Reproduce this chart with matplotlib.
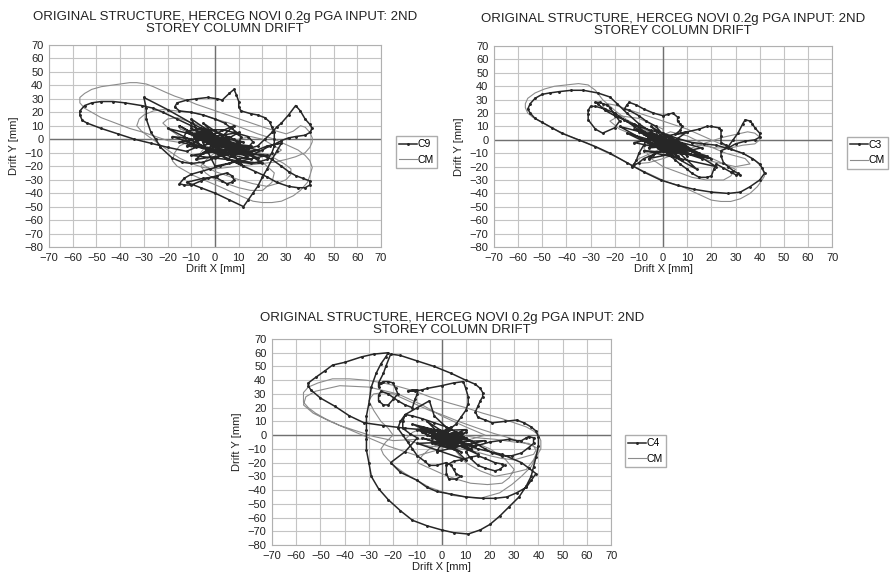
import numpy as np
import matplotlib
matplotlib.use("Agg")
import matplotlib.pyplot as plt

plt.rcParams['font.family'] = ['Liberation Sans', 'DejaVu Sans']

TITLE = "ORIGINAL STRUCTURE, HERCEG NOVI 0.2g PGA INPUT: 2ND\nSTOREY COLUMN DRIFT"
x_ticks = list(range(-70, 71, 10))
y_ticks = list(range(-80, 71, 10))

# ---- panel 1 : C9 vs CM  (x, y) drift in mm ----
c9_pts = [
    (0, 0), (4, -4), (-2, 2), (6, -6), (-4, 3), (2, -2), (9, -7), (-6, 5), (1, -3), (11, -5), (-3, 1), (7, -9), (0, -2), (-8, -6),
    (-12, -9), (-20, -6), (-27, -3), (-34, 0), (-41, 4), (-48, 8), (-54, 12), (-56, 14), (-57, 18), (-57, 21), (-55, 25),
    (-52, 27), (-48, 28), (-43, 28), (-38, 27), (-31, 25), (-26, 23), (-22, 20), (-16, 15), (-10, 10), (-5, 6), (-2, 4), (3, 0),
    (-10, 12), (-20, 22), (-30, 31), (-29, 23), (-29, 15), (-27, 5), (-25, 0), (-23, -6), (-18, -14), (-14, -17), (-10, -18),
    (-5, -17), (0, -14), (5, -11), (10, -10), (15, -11), (20, -12),
    (24, -15), (28, -20), (31, -24), (34, -27), (37, -29), (40, -31), (40, -34), (38, -36), (35, -36), (31, -35), (26, -32),
    (22, -28), (17, -24), (12, -20), (7, -16), (2, -12),
    (-3, -8), (-8, -5), (-12, -1), (-13, 2), (-12, 6), (-6, 8), (0, 6), (4, 3), (8, 0), (10, -3), (11, 2), (8, 5), (3, 7), (0, 7),
    (-5, 6), (-9, 4), (-8, -1), (-5, -6), (0, -9), (6, -10), (10, -8), (14, -6), (16, -2), (14, 2), (10, 4),
    (7, 8), (4, 12), (0, 15), (-5, 18), (-10, 20), (-15, 21), (-17, 24), (-16, 27), (-12, 29), (-8, 30), (-3, 31), (1, 30),
    (3, 29), (6, 34), (8, 37), (9, 33), (10, 28), (10, 24), (11, 21), (15, 19), (18, 18), (21, 16), (23, 13), (24, 9), (25, 5),
    (25, 0), (25, -5), (24, -10), (22, -15), (18, -17), (15, -18), (10, -17), (5, -15),
    (10, -10), (14, -7), (18, -5), (21, 0), (24, 5), (26, 9), (28, 12), (31, 18), (34, 25), (36, 21), (38, 15), (40, 11),
    (41, 8), (40, 5), (38, 3), (34, 2), (31, 1), (28, -1), (26, -3), (23, -5), (20, -8),
    (15, -12), (10, -15), (6, -18), (2, -20), (-2, -22), (-6, -24), (-10, -26), (-13, -29), (-15, -33), (-13, -34), (-10, -34),
    (-6, -31), (-3, -29), (1, -27), (5, -25), (7, -27), (8, -30), (7, -32), (5, -33), (3, -31), (0, -28), (-5, -29), (-12, -32),
    (-6, -36), (0, -40), (6, -45), (12, -50), (14, -45), (16, -40), (18, -35), (20, -28), (22, -22), (24, -15), (26, -9), (28, -3),
    (22, -5), (15, -10), (10, -6), (5, -3), (0, -1), (-4, -1),
    (-15, 10), (10, -15), (-18, 2), (15, -5), (-10, -12), (20, -18), (-5, 12), (12, -20), (-20, 8), (18, -8), (-8, -15),
    (8, 10), (-12, -5), (22, -12), (0, -20), (-10, 15), (15, -15), (-15, -2), (10, 5), (-5, -10), (12, -2), (-8, 4),
    (5, -2), (-3, 4), (12, -6), (-10, 8), (3, -5), (15, -10), (-6, 3), (8, -8), (-12, 5), (0, -6), (10, -3), (-5, -2), (6, 2),
    (-2, -8), (13, -12), (-9, 2), (4, -4), (18, -14), (-4, 6), (2, -3), (-7, 2), (5, -6), (-3, 0), (3, -1), (0, 0),
]
cm1_pts = [
    (0, 0), (-5, 3), (5, -4), (-10, 6), (8, -8), (-15, 8), (12, -10), (-5, -5),
    (-20, -1), (-30, 5), (-36, 8), (-42, 12), (-48, 16), (-52, 20), (-55, 23), (-57, 27), (-57, 31), (-55, 34), (-52, 37),
    (-48, 39), (-44, 40), (-40, 41), (-36, 42), (-33, 42), (-29, 41), (-26, 39), (-21, 35), (-17, 32), (-12, 29), (-8, 26),
    (-3, 23), (2, 20), (7, 17), (12, 14), (17, 11), (22, 8), (26, 6), (30, 4), (33, 6), (36, 10), (38, 9), (40, 5), (41, 1),
    (41, -2), (40, -6), (38, -10), (34, -13), (30, -15), (25, -17), (20, -18), (15, -19), (10, -20), (5, -21), (0, -22),
    (-5, -21), (-10, -18), (-15, -14), (-20, -8), (-24, -3), (-28, 2), (-31, 6), (-33, 10), (-32, 15), (-30, 18), (-26, 21),
    (-22, 22), (-16, 21), (-10, 20), (-5, 18), (0, 15), (6, 12), (12, 8), (18, 4), (25, 0), (30, -4), (35, -8), (38, -12),
    (40, -16), (41, -21), (40, -27), (39, -32), (36, -38), (33, -42), (28, -46), (24, -47), (20, -47), (16, -46), (12, -43),
    (8, -40), (3, -36), (-1, -33), (-5, -30), (-9, -27), (-12, -24), (-16, -20), (-18, -16), (-17, -10), (-15, -5), (-10, -1),
    (-5, 2), (0, 2), (5, 0), (10, -4), (15, -8), (20, -11), (25, -14), (29, -18), (32, -22), (32, -26), (30, -30), (26, -33),
    (22, -35), (16, -33), (10, -30), (5, -27), (0, -24), (-4, -20), (-8, -15), (-6, -10), (-4, -5), (0, 0), (3, 3), (-2, 7),
    (-6, 10), (-11, 13), (-16, 16), (-20, 15), (-22, 12), (-19, 7), (-15, 2), (-8, -3), (0, -8), (8, -10), (15, -12),
    (20, -17), (25, -25), (24, -32), (20, -38), (15, -38), (10, -36), (5, -33), (0, -30), (-4, -25), (-6, -20), (-3, -14),
    (0, -10), (5, -5), (10, 0), (15, 2), (20, 0), (24, -4), (28, -8), (25, -12), (18, -10), (10, -6), (3, -3), (0, 0),
]

# ---- panel 2 : C3 vs CM ----
c3_pts = [
    (0, 0), (5, -4), (-4, 3), (8, -7), (-6, 5), (3, -3), (10, -10), (-8, 6), (2, -1), (7, -8), (-3, 4),
    (-5, 6), (-10, 12), (-15, 20), (-19, 27), (-22, 32), (-27, 35), (-33, 37), (-38, 37), (-43, 36), (-47, 35), (-50, 34),
    (-53, 31), (-55, 27), (-56, 23), (-55, 20), (-53, 16), (-50, 13), (-46, 9), (-42, 5), (-35, 0), (-28, -5), (-22, -10),
    (-15, -17), (-8, -24), (-1, -30), (6, -34), (13, -37), (20, -39), (27, -40), (32, -39), (36, -35), (40, -30), (42, -25),
    (41, -21), (40, -18), (37, -14), (33, -10), (28, -7), (22, -4), (17, -3), (12, -2),
    (6, 1), (0, 5), (-5, 7), (-10, 10), (-15, 14), (-20, 18), (-24, 22), (-27, 27), (-28, 28), (-26, 28), (-25, 27), (-23, 26),
    (-22, 24), (-20, 19), (-18, 14), (-20, 9), (-25, 5), (-28, 8), (-31, 15), (-31, 19), (-31, 22), (-30, 25), (-28, 25),
    (-24, 23), (-20, 20), (-16, 15), (-12, 10), (-9, 6), (-6, 2), (-8, -4), (-10, -10), (-11, -15), (-12, -18), (-13, -20),
    (-10, -17), (-8, -14), (-4, -11), (0, -8), (5, -6), (10, -5),
    (5, 0), (0, 4), (-3, 10), (-7, 14), (-10, 18), (-14, 22), (-16, 23), (-15, 26), (-14, 28), (-11, 26), (-8, 23), (-4, 20),
    (0, 18), (2, 19), (4, 20), (6, 17), (6, 14), (7, 12), (8, 10), (7, 7), (5, 4),
    (10, 6), (15, 8), (18, 10), (20, 10), (23, 9), (24, 7), (24, 3), (24, -2), (26, -4), (27, -5), (29, 0), (31, 5), (33, 12),
    (34, 15), (36, 14), (37, 12), (38, 9), (40, 5), (40, 2), (38, 0), (34, -1), (30, -3), (27, -6), (24, -8),
    (24, -12), (25, -17), (27, -20), (29, -23), (31, -25), (32, -26), (30, -26), (28, -24), (25, -21), (22, -18), (21, -22),
    (20, -27), (18, -28), (15, -28), (12, -25), (10, -22), (7, -18), (5, -15),
    (-12, 12), (8, -15), (-15, 5), (18, -12), (-8, -8), (22, -20), (-5, 10), (14, -22), (-18, 10), (16, -6), (-6, -14),
    (10, 6), (-12, -2), (20, -14),
    (-2, -6), (-7, 0), (0, 4), (6, -2), (2, -9), (-4, -4), (8, -3), (-6, 2), (4, -8), (-8, 4), (10, -6), (-3, -2), (3, -10),
    (-5, 5), (12, -8), (-10, 6), (0, -4), (6, -12), (-2, 2), (9, -4), (-6, -6), (2, 3), (15, -10), (-12, 8), (5, -5), (-4, 0),
    (8, -10), (0, -2), (16, -14), (-8, 0), (4, 0), (10, -12), (0, 0),
]
cm2_pts = [
    (0, 0), (-5, 4), (6, -5), (-8, 7), (10, -8),
    (-2, 3), (-8, 8), (-15, 15), (-20, 22), (-25, 30), (-28, 37), (-31, 41), (-35, 42), (-40, 41), (-45, 40), (-49, 38),
    (-53, 35), (-56, 31), (-57, 27), (-57, 24), (-56, 20), (-54, 17), (-50, 13), (-45, 8), (-39, 3), (-32, -2), (-25, -8),
    (-18, -14), (-12, -20), (-5, -26), (1, -31), (8, -35), (14, -40), (20, -45), (24, -46), (28, -46), (32, -44), (36, -40),
    (39, -35), (41, -30), (42, -27), (42, -24), (40, -19), (38, -15), (34, -11), (30, -8), (25, -4), (20, 0), (15, 4), (10, 8),
    (5, 11), (0, 14), (-5, 17), (-10, 20), (-15, 23), (-20, 26), (-23, 27), (-25, 25), (-22, 20), (-15, 14), (-8, 9), (0, 4),
    (8, 0), (15, -4), (22, -6), (28, -6), (33, -4), (38, -3), (40, 0), (40, 2), (38, 5), (35, 6), (30, 4), (25, 2), (18, -2),
    (12, -6), (6, -10), (0, -14), (-6, -17), (-12, -18), (-10, -14), (-5, -10), (0, -6), (5, -2), (10, -6), (18, -12),
    (24, -17), (30, -22), (28, -27), (25, -30), (18, -30), (12, -28), (6, -24), (0, -20), (-5, -14), (-8, -6), (-4, 0), (3, 6),
    (10, 3), (18, -4), (26, -10), (34, -14), (36, -18), (30, -20), (20, -16), (10, -10), (0, -4), (-10, 2), (-18, 8),
    (-22, 14), (-18, 18), (-10, 16), (0, 8), (0, 0),
]

# ---- panel 3 : C4 vs CM ----
c4_pts = [
    (0, 0), (6, 2), (-4, -2), (8, -4), (-6, 3), (10, 4), (-3, -5), (5, -8), (-8, 2), (2, 3),
    (-8, 4), (-15, 5), (-24, 7), (-32, 9), (-38, 14), (-44, 21), (-50, 27), (-54, 33), (-55, 36), (-55, 38), (-52, 42),
    (-48, 47), (-45, 51), (-40, 53), (-33, 57), (-28, 59), (-22, 60),
    (-23, 57), (-25, 52), (-27, 45), (-29, 35), (-30, 23), (-31, 14), (-31, 4), (-31, -3), (-31, -11), (-30, -20), (-29, -30),
    (-26, -39), (-22, -47), (-17, -55), (-12, -62), (-6, -66), (0, -69), (5, -71), (11, -72), (16, -69), (20, -65), (24, -59),
    (28, -52), (32, -45), (35, -37), (37, -30), (38, -23), (39, -16), (40, -8), (40, -1), (39, 3), (37, 6), (34, 9), (31, 11),
    (26, 10), (21, 9), (18, 11), (15, 13), (14, 17), (15, 21), (16, 25), (17, 28), (17, 31), (16, 34), (14, 37), (10, 40),
    (4, 45), (-3, 50), (-10, 54), (-17, 58), (-21, 59),
    (-23, 50), (-24, 45), (-26, 38), (-26, 35), (-25, 38), (-24, 39), (-22, 39), (-20, 38), (-19, 34), (-18, 30), (-20, 26),
    (-22, 22), (-24, 22), (-26, 25), (-26, 29), (-25, 32), (-22, 30), (-18, 25), (-15, 22), (-12, 20), (-11, 26), (-10, 30),
    (-10, 33), (-12, 33), (-14, 32), (-11, 32), (-8, 33), (-6, 34), (0, 36), (5, 38), (9, 39), (10, 34), (11, 28), (11, 23),
    (10, 18), (8, 13), (6, 8), (3, 4),
    (-3, 14), (-5, 25), (-10, 20), (-15, 15), (-17, 10), (-18, 5), (-16, 0), (-14, -5), (-12, -10), (-10, -15), (-7, -19),
    (-5, -22), (-2, -22), (2, -20), (4, -22), (5, -25), (6, -28), (8, -30), (6, -32), (3, -32), (2, -28), (2, -22), (5, -19),
    (8, -18), (12, -16), (15, -15), (18, -17), (22, -20), (25, -21), (26, -22), (24, -25), (22, -26), (18, -24), (15, -22),
    (12, -17), (10, -12), (14, -8), (20, -5), (24, -4), (28, -3), (31, -4), (33, -4), (35, -2), (36, -1), (38, -2), (38, -6),
    (36, -9), (33, -13), (29, -15), (25, -15), (21, -13), (18, -10), (14, -6), (10, -2), (6, 2), (2, 6), (-3, 9), (-8, 12),
    (-12, 14), (-15, 15), (-16, 10), (-16, 5), (-13, 1), (-10, -2),
    (-15, -12), (-21, -20), (-17, -27), (-10, -33), (-6, -38), (-2, -41), (4, -43), (10, -45), (17, -46), (22, -46), (27, -45),
    (31, -42), (35, -38), (37, -33), (39, -28), (36, -24), (33, -20),
    (25, -14), (15, -10), (8, -6), (0, -6), (-8, -2), (5, -10), (-5, 2), (12, -4), (-8, 6), (3, -8), (10, 2), (-4, -6),
    (8, -12), (-10, 4), (2, -2), (14, -8), (-6, 0), (6, -4), (-2, 4), (12, -10), (0, -4), (8, 2), (-4, -2), (4, -6), (10, -2),
    (-12, 8), (15, -14), (-6, 10), (10, -18), (-10, -6), (18, -4), (-2, -12), (4, 6), (-2, 0), (6, -8), (0, 0),
]
cm3_pts = [
    (0, 0), (-6, 3), (6, -3), (-10, 5), (10, -6),
    (0, -2), (-10, -3), (-20, -4), (-28, -1), (-35, 3), (-42, 7), (-48, 12), (-52, 16), (-55, 20), (-57, 24), (-57, 27),
    (-57, 31), (-55, 35), (-51, 38), (-45, 41), (-38, 41), (-31, 40), (-24, 38), (-17, 35), (-11, 32), (-5, 28), (2, 24),
    (10, 20), (17, 16), (25, 12), (30, 9), (35, 6), (38, 3), (40, 0), (41, -4), (41, -10), (39, -16), (37, -23), (33, -30),
    (29, -36), (24, -42), (20, -44), (16, -46), (10, -45), (5, -44), (0, -41), (-5, -38), (-10, -33), (-15, -28), (-19, -23),
    (-22, -18), (-24, -14), (-25, -10), (-23, -5), (-20, 0), (-22, 5), (-25, 10), (-28, 18), (-30, 25), (-29, 28), (-28, 30),
    (-24, 31), (-20, 30), (-15, 26), (-10, 22), (-5, 18), (0, 15), (7, 10), (15, 5), (22, 1), (28, -2), (33, -5), (38, -8),
    (39, -11), (38, -14), (34, -16), (30, -18), (25, -17), (20, -15), (14, -12), (8, -10), (2, -9), (-5, -8), (-10, -6),
    (-15, -3), (-12, 2), (-8, 5), (-2, 4), (5, 0), (12, -4), (20, -10), (26, -17), (30, -25), (28, -31), (25, -35), (19, -36),
    (12, -35), (6, -32), (0, -28), (-5, -24), (-10, -20), (-8, -15), (-5, -10), (0, -5), (5, -10), (10, -20), (16, -26),
    (22, -30), (28, -28), (35, -25), (38, -18), (40, -10), (36, -6), (30, -5), (22, -3), (15, -2), (8, 0),
    (0, -10), (-10, -15), (-22, -8), (-30, -2), (-38, 4), (-46, 10), (-53, 16), (-57, 22), (-56, 28), (-52, 32), (-42, 36),
    (-30, 35), (-18, 30), (-8, 22), (0, 14), (10, 6), (18, 0), (10, -4), (0, 0),
]

panels = [
    ("C9", c9_pts, cm1_pts, [0.0551, 0.5734, 0.373, 0.349], (1.045, 0.47), 9),
    ("C3", c3_pts, cm2_pts, [0.555, 0.5734, 0.380, 0.347], (1.045, 0.47), 9),
    ("C4", c4_pts, cm3_pts, [0.3056, 0.0587, 0.381, 0.3558], (1.042, 0.456), 4.5),
]

fig = plt.figure(figsize=(8.9, 5.79), dpi=100)

for name, c_pts, m_pts, rect, leg_pos, tpad in panels:
    cx, cy = np.array(c_pts, dtype=float).T
    mx, my = np.array(m_pts, dtype=float).T

    ax = fig.add_axes(rect)
    ax.set_xlim(-70, 70)
    ax.set_ylim(-80, 70)
    ax.set_xticks(x_ticks)
    ax.set_yticks(y_ticks)
    ax.set_xticklabels([str(t).replace("-", "\u2212") for t in x_ticks])
    ax.set_yticklabels([str(t).replace("-", "\u2212") for t in y_ticks])
    ax.tick_params(length=0, labelsize=8, pad=4, colors="#222222")
    ax.grid(True, color="#c4c4c4", lw=0.8)
    ax.set_axisbelow(True)
    for s in ax.spines.values():
        s.set_color("#b0b0b0")
        s.set_linewidth(0.8)
    ax.axhline(0, color="#707070", lw=1.0, zorder=1)
    ax.axvline(0, color="#707070", lw=1.0, zorder=1)

    ax.plot(mx, my, color="#8c8c8c", lw=0.8, label="CM", zorder=2)
    ax.plot(cx, cy, color="#262626", lw=1.1, marker=".", ms=2.2, label=name, zorder=3)

    handles, labels = ax.get_legend_handles_labels()
    leg = ax.legend(handles[::-1], labels[::-1], loc="center left", bbox_to_anchor=leg_pos,
                    fontsize=7.5, frameon=True, fancybox=False, handlelength=1.7,
                    handletextpad=0.05, borderpad=0.3, labelspacing=0.55, borderaxespad=0)
    leg.get_frame().set_edgecolor("#999999")
    leg.get_frame().set_linewidth(1.0)

    ax.set_title(TITLE, fontsize=9.5, x=0.53, pad=tpad, color="#222222", linespacing=1.0)
    ax.set_xlabel("Drift X [mm]", fontsize=8, labelpad=1, color="#222222")
    ax.set_ylabel("Drift Y [mm]", fontsize=8, labelpad=4, color="#222222")

fig.savefig("out.png", dpi=100, facecolor="white")
